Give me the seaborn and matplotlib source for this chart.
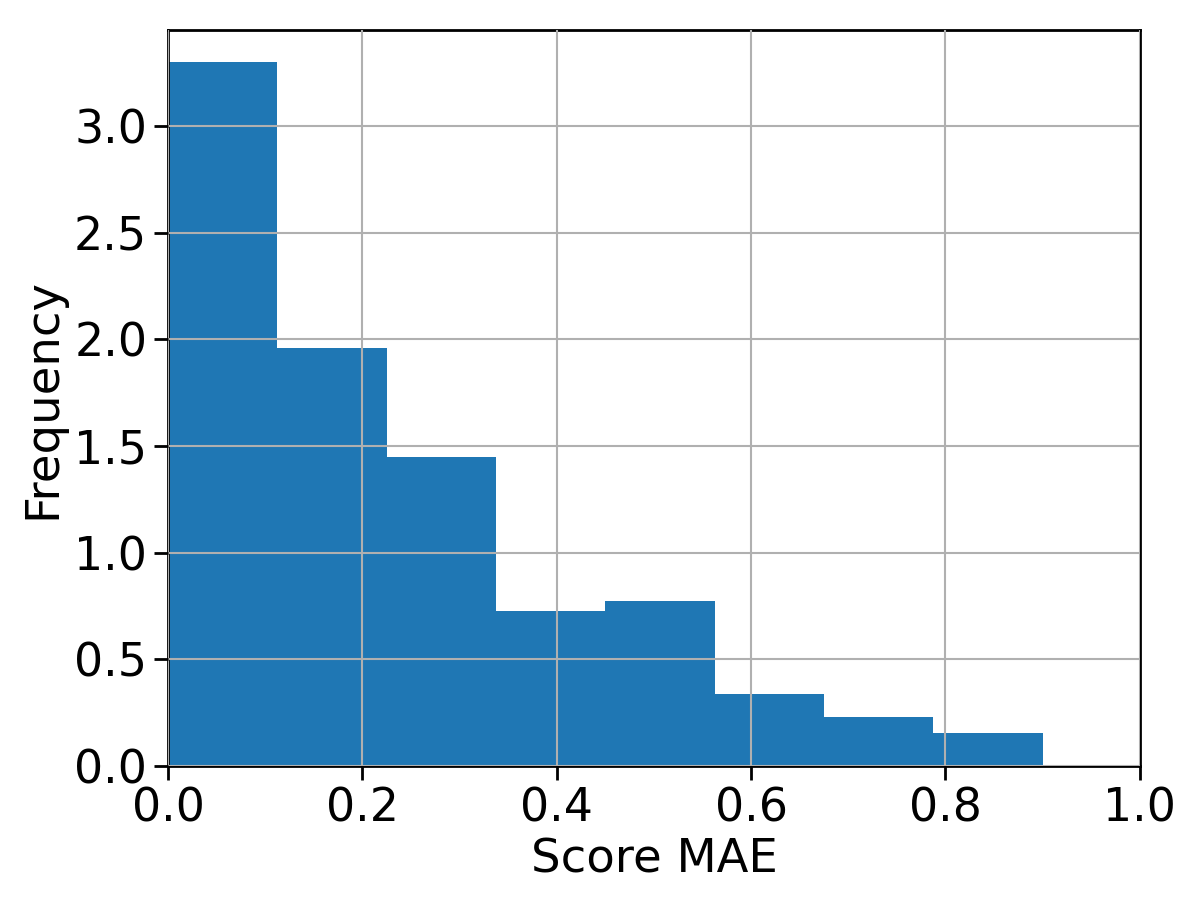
import numpy as np
import matplotlib
matplotlib.use("Agg")
import matplotlib.pyplot as plt
import seaborn as sns

# Histogram bins (Score MAE) and density heights
bin_edges = [0.0, 0.1125, 0.225, 0.3375, 0.45, 0.5625, 0.675, 0.7875, 0.9]
bin_centers = [0.05625, 0.16875, 0.28125, 0.39375, 0.50625, 0.61875, 0.73125, 0.84375]
density = [3.30, 1.96, 1.45, 0.725, 0.775, 0.335, 0.228, 0.155]

x_ticks = [0.0, 0.2, 0.4, 0.6, 0.8, 1.0]
y_ticks = [0.0, 0.5, 1.0, 1.5, 2.0, 2.5, 3.0]

sns.set_style("white")
plt.rcParams["font.family"] = ["DejaVu Sans"]
plt.rcParams["text.color"] = "black"
plt.rcParams["axes.labelcolor"] = "black"

fig = plt.figure(figsize=(11.96, 9.14), dpi=100)
ax = fig.add_axes([0.1405, 0.162, 0.8125, 0.805])

sns.histplot(
    x=bin_centers,
    weights=density,
    bins=bin_edges,
    stat="count",
    color="#1f77b4",
    alpha=1.0,
    linewidth=0,
    ax=ax,
)

ax.set_xlim(0, 1.0)
ax.set_ylim(0, 3.45)
ax.set_xticks(x_ticks)
ax.set_yticks(y_ticks)
ax.set_xticklabels([f"{t:.1f}" for t in x_ticks])
ax.set_yticklabels([f"{t:.1f}" for t in y_ticks])
ax.tick_params(bottom=True, left=True, labelsize=33, length=10, width=2,
               direction="out", colors="black", pad=5)
ax.grid(True, color="#b0b0b0", linewidth=1.5)
ax.set_axisbelow(False)
for s in ax.spines.values():
    s.set_linewidth(2)
    s.set_color("black")
    s.set_visible(True)

ax.set_xlabel("Score MAE", fontsize=33.5, labelpad=4, color="black")
ax.set_ylabel("Frequency", fontsize=33.5, labelpad=6, color="black")

fig.savefig("out.png", dpi=100)
